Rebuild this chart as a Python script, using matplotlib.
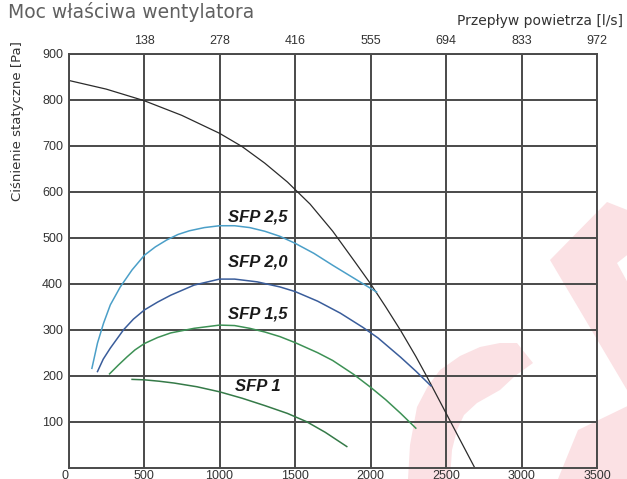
"""
Fan specific power (SFP) chart with system curve
"""
import matplotlib.pyplot as plt
from matplotlib.patches import Polygon

# airflow [m3/h] and static pressure [Pa]
system_q = [0, 250, 500, 750, 1000, 1150, 1300, 1450, 1600, 1750, 1900, 2000,
            2100, 2200, 2300, 2370, 2450, 2530, 2610, 2690]
system_p = [842, 823, 798, 766, 727, 698, 662, 621, 573, 514, 446, 400,
            350, 298, 242, 200, 150, 100, 50, 0]

sfp25_q = [155, 192, 232, 277, 343, 421, 503, 575, 650, 725, 800, 900, 1000,
           1100, 1200, 1300, 1400, 1500, 1625, 1750, 1900, 2040]
sfp25_p = [216, 271, 314, 354, 393, 430, 462, 480, 495, 507, 515, 522, 526,
           526, 522, 514, 503, 488, 466, 440, 410, 382]

sfp20_q = [192, 230, 277, 365, 430, 503, 590, 677, 832, 1000, 1100, 1250,
           1400, 1500, 1650, 1800, 1950, 2050, 2200, 2300, 2400]
sfp20_p = [209, 236, 260, 300, 323, 343, 360, 375, 397, 410, 410, 404,
           393, 383, 362, 336, 305, 282, 240, 210, 178]

sfp15_q = [272, 330, 388, 440, 503, 590, 677, 832, 1000, 1100, 1200, 1300,
           1400, 1500, 1650, 1750, 1888, 2000, 2100, 2200, 2300]
sfp15_p = [204, 223, 241, 256, 270, 283, 293, 303, 310, 309, 303, 295,
           285, 272, 250, 233, 203, 175, 148, 118, 86]

sfp1_q = [421, 503, 600, 700, 850, 1000, 1150, 1300, 1450, 1577, 1700, 1843]
sfp1_p = [192, 191, 188, 184, 176, 165, 151, 135, 118, 100, 77, 46]

x_ticks = [0, 500, 1000, 1500, 2000, 2500, 3000, 3500]
y_ticks = [100, 200, 300, 400, 500, 600, 700, 800, 900]
top_ticks = [500, 1000, 1500, 2000, 2500, 3000, 3500]
top_labels = ["138", "278", "416", "555", "694", "833", "972"]

sfp_labels = ["SFP 2,5", "SFP 2,0", "SFP 1,5", "SFP 1"]
sfp_label_q = [1250, 1250, 1250, 1255]
sfp_label_p = [544, 447, 335, 177]

W, H = 627, 479
fig = plt.figure(figsize=(W / 100, H / 100), dpi=100)

# pale logo in the background (pixel coordinates)
bg = fig.add_axes([0, 0, 1, 1], zorder=-1)
bg.set_xlim(0, W)
bg.set_ylim(H, 0)
bg.axis("off")
pink = "#fbe1e4"
# diagonal stroke with a small notch on the right
bg.add_patch(Polygon([(550, 260), (607, 202), (640, 215), (640, 245), (617, 263),
                      (640, 305), (640, 412)], closed=True, color=pink, lw=0))
# lower right piece
bg.add_patch(Polygon([(640, 400), (578, 430), (558, 479), (640, 479)],
                     closed=True, color=pink, lw=0))
# arc
bg.add_patch(Polygon([(408, 479), (410, 445), (417, 407), (428, 386), (440, 370),
                      (460, 356), (480, 347), (500, 343), (517, 343), (533, 363),
                      (515, 376), (500, 390), (477, 403), (464, 415), (457, 430),
                      (452, 450), (450, 479)], closed=True, color=pink, lw=0))

left, right, top, bottom = 68.5, 597, 53.7, 467.7
ax = fig.add_axes([left / W, 1 - bottom / H, (right - left) / W, (bottom - top) / H])
ax.set_facecolor("none")
ax.set_xlim(0, 3500)
ax.set_ylim(0, 900)

grid_c = "#4a4a4a"
ax.set_xticks(x_ticks)
ax.set_yticks(y_ticks)
ax.grid(True, color=grid_c, lw=1.4)
ax.set_axisbelow(True)
for sp in ax.spines.values():
    sp.set_color(grid_c)
    sp.set_linewidth(1.4)
ax.tick_params(length=0, labelsize=9, labelcolor="#333333")
ax.tick_params(axis="x", pad=2)
ax.tick_params(axis="y", pad=4)
for lab in ax.get_xticklabels() + ax.get_yticklabels():
    lab.set_fontfamily("Liberation Sans")
# the zero sits in the corner, left of the axis
ax.get_xticklabels()[0].set_horizontalalignment("right")

ax_top = ax.twiny()
ax_top.set_xlim(ax.get_xlim())
ax_top.set_xticks(top_ticks)
ax_top.set_xticklabels(top_labels, fontfamily="Liberation Sans")
ax_top.tick_params(length=0, labelsize=9, labelcolor="#333333", pad=5)
for sp in ax_top.spines.values():
    sp.set_visible(False)

ax.plot(system_q, system_p, color="#2b2b2b", lw=0.9)
ax.plot(sfp25_q, sfp25_p, color="#4b9fc8", lw=1.1)
ax.plot(sfp20_q, sfp20_p, color="#3a5d9b", lw=1.1)
ax.plot(sfp15_q, sfp15_p, color="#3d9155", lw=1.1)
ax.plot(sfp1_q, sfp1_p, color="#357a48", lw=1.1)

for txt, q, p in zip(sfp_labels, sfp_label_q, sfp_label_p):
    ax.text(q, p, txt, ha="center", va="center", fontsize=12, fontweight="bold",
            fontstyle="italic", family="Liberation Sans", color="#1a1a1a")

fig.text(8 / W, 1 - 12 / H, "Moc właściwa wentylatora", fontsize=13.5,
         color="#606060", va="center", ha="left", family="DejaVu Sans")
fig.text(623 / W, 1 - 21 / H, "Przepływ powietrza [l/s]", fontsize=10,
         color="#333333", va="center", ha="right", family="DejaVu Sans")
fig.text(18 / W, 1 - 121 / H, "Ciśnienie statyczne [Pa]", fontsize=9.5,
         color="#333333", va="center", ha="center", rotation=90, family="DejaVu Sans")

fig.savefig("out.png", dpi=100)
